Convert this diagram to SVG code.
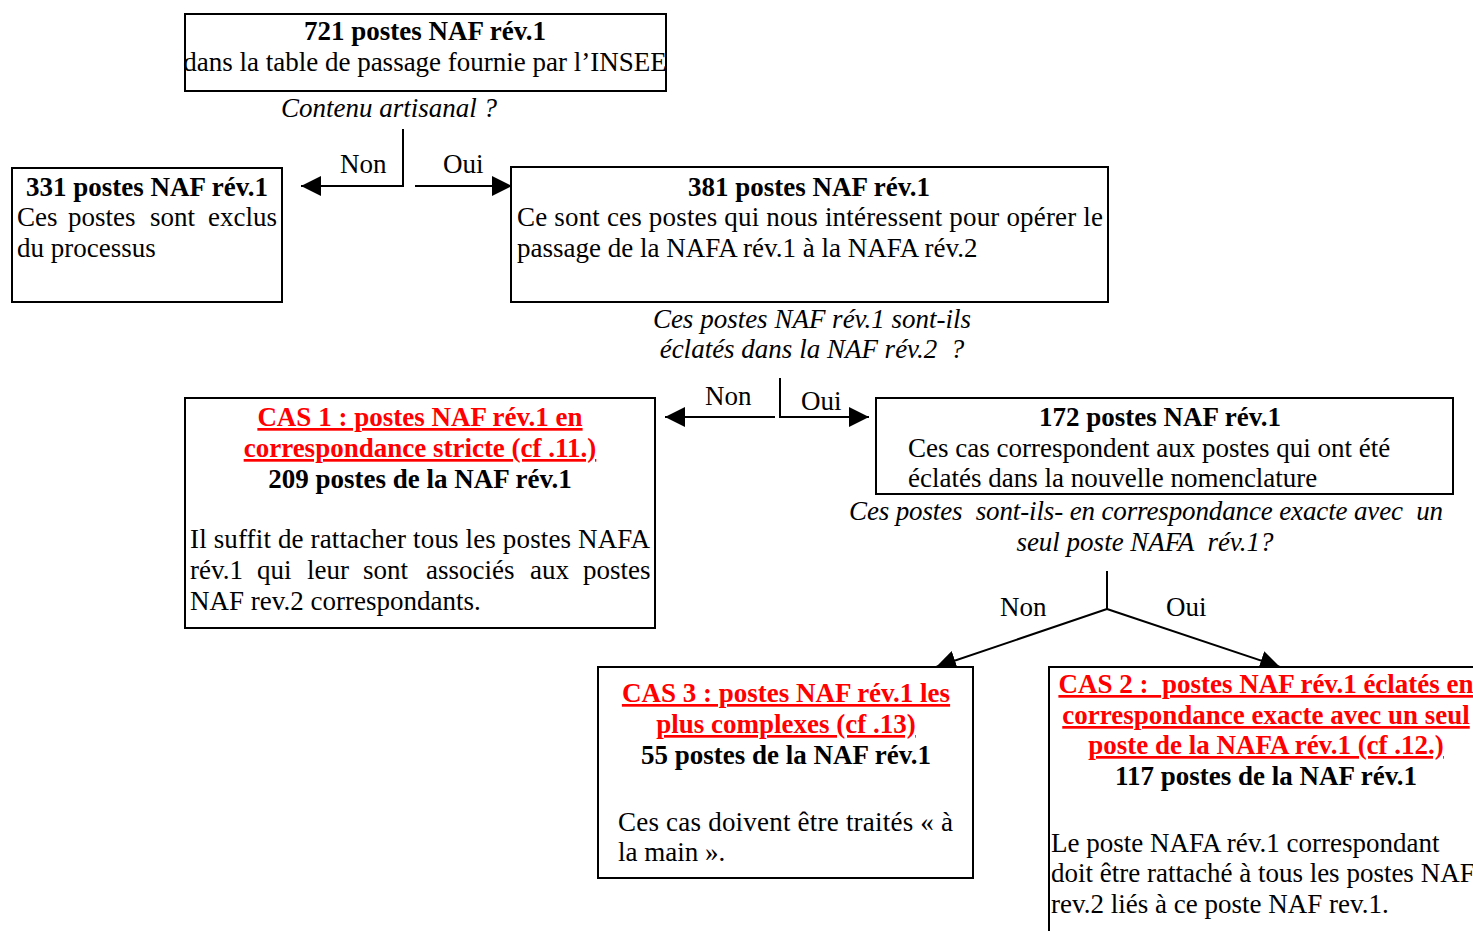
<svg xmlns="http://www.w3.org/2000/svg" width="1473" height="931" viewBox="0 0 1473 931">
<style>
text{font-family:"Liberation Serif","Times New Roman",serif;font-size:27px;fill:#000}
.b{font-weight:bold}
.i{font-style:italic}
.r{fill:#ff0000;font-weight:bold;text-decoration:underline}
.m{text-anchor:middle}
.box{fill:#fff;stroke:#000;stroke-width:2}
.ln{fill:none;stroke:#000;stroke-width:2}
</style>
<defs>
<marker id="ah2" viewBox="0 0 10 10" refX="10" refY="5" markerWidth="20" markerHeight="20" markerUnits="userSpaceOnUse" orient="auto">
<path d="M0,0 L10,5 L0,10 z" fill="#000"/>
</marker>
</defs>
<rect width="1473" height="931" fill="#fff"/>

<g id="connectors">
<path class="ln" d="M403,129 V186 H301" marker-end="url(#ah2)"/>
<path class="ln" d="M415,186 H512" marker-end="url(#ah2)"/>
<path class="ln" d="M780,378 V417 H869" marker-end="url(#ah2)"/>
<path class="ln" d="M775,417 H665" marker-end="url(#ah2)"/>
<path class="ln" d="M1107,571 V609 L936,667" marker-end="url(#ah2)"/>
<path class="ln" d="M1107,609 L1280,667" marker-end="url(#ah2)"/>
<text x="340" y="173">Non</text>
<text x="443" y="173">Oui</text>
<text x="705" y="405">Non</text>
<text x="801" y="410">Oui</text>
<text x="1000" y="616">Non</text>
<text x="1166" y="616">Oui</text>
<text class="i m" x="389" y="117">Contenu artisanal ?</text>
<text class="i m" x="812" y="328">Ces postes NAF rév.1 sont-ils</text>
<text class="i m" x="812" y="358" xml:space="preserve">éclatés dans la NAF rév.2  ?</text>
<text class="i" x="849" y="520" textLength="594" lengthAdjust="spacing" xml:space="preserve">Ces postes  sont-ils- en correspondance exacte avec  un</text>
<text class="i m" x="1145" y="551" xml:space="preserve">seul poste NAFA  rév.1?</text>
</g>

<g id="n721">
<rect class="box" x="185" y="14" width="481" height="77"/>
<text class="b m" x="425" y="40">721 postes NAF rév.1</text>
<text class="m" x="425" y="71">dans la table de passage fournie par l’INSEE</text>
</g>

<g id="n331">
<rect class="box" x="12" y="168" width="270" height="134"/>
<text class="b m" x="147" y="196">331 postes NAF rév.1</text>
<text y="226"><tspan x="17">Ces</tspan> <tspan x="68">postes</tspan> <tspan x="150">sont</tspan> <tspan x="208">exclus</tspan></text>
<text x="17" y="257">du processus</text>
</g>

<g id="n381">
<rect class="box" x="511" y="167" width="597" height="135"/>
<text class="b m" x="809" y="196">381 postes NAF rév.1</text>
<text x="517" y="226" textLength="586" lengthAdjust="spacing">Ce sont ces postes qui nous intéressent pour opérer le</text>
<text x="517" y="257">passage de la NAFA rév.1 à la NAFA rév.2</text>
</g>

<g id="cas1">
<rect class="box" x="185" y="398" width="470" height="230"/>
<text class="r m" x="420" y="426">CAS 1 : postes NAF rév.1 en</text>
<text class="r m" x="420" y="457">correspondance stricte (cf .11.)</text>
<text class="b m" x="420" y="488">209 postes de la NAF rév.1</text>
<text x="190" y="548" textLength="460" lengthAdjust="spacing">Il suffit de rattacher tous les postes NAFA</text>
<text y="579"><tspan x="190">rév.1</tspan> <tspan x="257">qui</tspan> <tspan x="307">leur</tspan> <tspan x="363">sont</tspan> <tspan x="426">associés</tspan> <tspan x="530">aux</tspan> <tspan x="583">postes</tspan></text>
<text x="190" y="610">NAF rev.2 correspondants.</text>
</g>

<g id="n172">
<rect class="box" x="876" y="398" width="577" height="96"/>
<text class="b m" x="1160" y="426">172 postes NAF rév.1</text>
<text x="908" y="457">Ces cas correspondent aux postes qui ont été</text>
<text x="908" y="487">éclatés dans la nouvelle nomenclature</text>
</g>

<g id="cas3">
<rect class="box" x="598" y="667" width="375" height="211"/>
<text class="r m" x="786" y="702">CAS 3 : postes NAF rév.1 les</text>
<text class="r m" x="786" y="733">plus complexes (cf .13)</text>
<text class="b m" x="786" y="764">55 postes de la NAF rév.1</text>
<text x="618" y="831" textLength="335" lengthAdjust="spacing">Ces cas doivent être traités « à</text>
<text x="618" y="861">la main ».</text>
</g>

<g id="cas2">
<rect class="box" x="1049" y="667" width="440" height="290"/>
<text class="r m" x="1266" y="693" xml:space="preserve">CAS 2 :  postes NAF rév.1 éclatés en</text>
<text class="r m" x="1266" y="724">correspondance exacte avec un seul</text>
<text class="r m" x="1266" y="754">poste de la NAFA rév.1 (cf .12.)</text>
<text class="b m" x="1266" y="785">117 postes de la NAF rév.1</text>
<text x="1051" y="852">Le poste NAFA rév.1 correspondant</text>
<text x="1051" y="882">doit être rattaché à tous les postes NAF</text>
<text x="1051" y="913">rev.2 liés à ce poste NAF rev.1.</text>
</g>
</svg>
